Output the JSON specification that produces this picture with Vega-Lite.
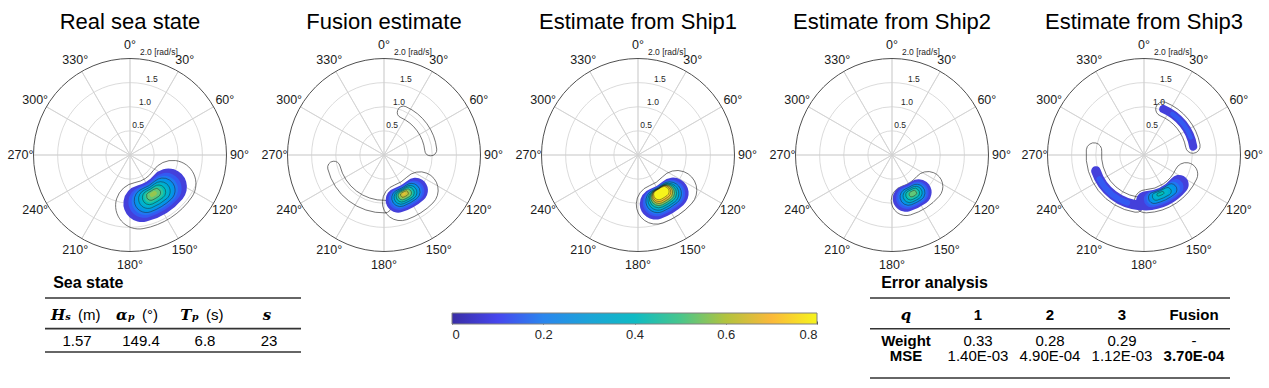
{
"$schema": "https://vega.github.io/schema/vega-lite/v6.json",
"padding": {"left": 3, "top": 11, "right": 0, "bottom": 0},
"config": {"view": {"stroke": null}, "font": "Liberation Sans", "title": {"font": "Liberation Sans", "fontWeight": "normal", "fontSize": 22, "color": "#000000", "anchor": "middle"}},
"datasets": {
"grid": [{"r": 0.5, "a0": 0, "a1": 360}, {"r": 1.0, "a0": 0, "a1": 360}, {"r": 1.5, "a0": 0, "a1": 360}],
"rim": [{"r": 2.0, "a0": 0, "a1": 360}],
"spk": [{"a": 0}, {"a": 30}, {"a": 60}, {"a": 90}, {"a": 120}, {"a": 150}, {"a": 180}, {"a": 210}, {"a": 240}, {"a": 270}, {"a": 300}, {"a": 330}],
"ang": [{"a": 0, "lab": "0°"}, {"a": 30, "lab": "30°"}, {"a": 60, "lab": "60°"}, {"a": 90, "lab": "90°"}, {"a": 120, "lab": "120°"}, {"a": 150, "lab": "150°"}, {"a": 180, "lab": "180°"}, {"a": 210, "lab": "210°"}, {"a": 240, "lab": "240°"}, {"a": 270, "lab": "270°"}, {"a": 300, "lab": "300°"}, {"a": 330, "lab": "330°"}],
"rl": [{"v": 0.5, "lab": "0.5"}, {"v": 1.0, "lab": "1.0"}, {"v": 1.5, "lab": "1.5"}, {"v": 2.0, "lab": "2.0 [rad/s]"}],
"ct": [
{"p": 1, "t1": 97, "t2": 197, "r1": 0.58, "r2": 1.55},
{"p": 2, "t1": 113, "t2": 182, "r1": 0.66, "r2": 1.42},
{"p": 2, "t1": 172, "t2": 263, "r1": 0.94, "r2": 1.2},
{"p": 2, "t1": 17, "t2": 91, "r1": 0.85, "r2": 1.1},
{"p": 3, "t1": 110, "t2": 182, "r1": 0.68, "r2": 1.5},
{"p": 4, "t1": 113, "t2": 181, "r1": 0.68, "r2": 1.3},
{"p": 5, "t1": 14, "t2": 88, "r1": 0.88, "r2": 1.18},
{"p": 5, "t1": 100, "t2": 192, "r1": 0.72, "r2": 1.2},
{"p": 5, "t1": 180, "t2": 284, "r1": 0.88, "r2": 1.2}
],
"lv": [
{"p": 1, "v": 0.05, "t1": 108, "t2": 188, "r1": 0.65, "r2": 1.42},
{"p": 1, "v": 0.10, "t1": 114.4, "t2": 182.0, "r1": 0.693, "r2": 1.345},
{"p": 1, "v": 0.15, "t1": 118.8, "t2": 178.0, "r1": 0.723, "r2": 1.293},
{"p": 1, "v": 0.20, "t1": 122.3, "t2": 174.7, "r1": 0.746, "r2": 1.252},
{"p": 1, "v": 0.25, "t1": 125.3, "t2": 171.9, "r1": 0.767, "r2": 1.215},
{"p": 1, "v": 0.30, "t1": 128.2, "t2": 169.2, "r1": 0.786, "r2": 1.182},
{"p": 1, "v": 0.35, "t1": 130.9, "t2": 166.7, "r1": 0.805, "r2": 1.149},
{"p": 1, "v": 0.40, "t1": 133.6, "t2": 164.2, "r1": 0.823, "r2": 1.117},
{"p": 1, "v": 0.45, "t1": 136.5, "t2": 161.5, "r1": 0.843, "r2": 1.083},
{"p": 1, "v": 0.50, "t1": 139.8, "t2": 158.4, "r1": 0.865, "r2": 1.043},
{"p": 1, "v": 0.55, "t1": 144.4, "t2": 154.0, "r1": 0.896, "r2": 0.99},
{"p": 2, "v": 0.05, "t1": 123, "t2": 178, "r1": 0.72, "r2": 1.24},
{"p": 2, "v": 0.10, "t1": 127.4, "t2": 174.4, "r1": 0.746, "r2": 1.19},
{"p": 2, "v": 0.15, "t1": 130.3, "t2": 171.9, "r1": 0.764, "r2": 1.158},
{"p": 2, "v": 0.20, "t1": 132.6, "t2": 170.0, "r1": 0.777, "r2": 1.131},
{"p": 2, "v": 0.25, "t1": 134.5, "t2": 168.3, "r1": 0.79, "r2": 1.108},
{"p": 2, "v": 0.30, "t1": 136.4, "t2": 166.8, "r1": 0.80, "r2": 1.088},
{"p": 2, "v": 0.35, "t1": 138.1, "t2": 165.3, "r1": 0.811, "r2": 1.069},
{"p": 2, "v": 0.40, "t1": 139.7, "t2": 163.9, "r1": 0.82, "r2": 1.05},
{"p": 2, "v": 0.45, "t1": 141.4, "t2": 162.6, "r1": 0.831, "r2": 1.031},
{"p": 2, "v": 0.50, "t1": 143.1, "t2": 161.1, "r1": 0.841, "r2": 1.011},
{"p": 2, "v": 0.55, "t1": 145.0, "t2": 159.6, "r1": 0.852, "r2": 0.99},
{"p": 2, "v": 0.60, "t1": 147.1, "t2": 157.7, "r1": 0.865, "r2": 0.965},
{"p": 2, "v": 0.65, "t1": 150.6, "t2": 154.8, "r1": 0.886, "r2": 0.926},
{"p": 3, "v": 0.05, "t1": 120, "t2": 178, "r1": 0.75, "r2": 1.40},
{"p": 3, "v": 0.10, "t1": 123.3, "t2": 174.5, "r1": 0.769, "r2": 1.343},
{"p": 3, "v": 0.15, "t1": 125.3, "t2": 172.3, "r1": 0.78, "r2": 1.306},
{"p": 3, "v": 0.20, "t1": 127.0, "t2": 170.5, "r1": 0.79, "r2": 1.278},
{"p": 3, "v": 0.25, "t1": 128.3, "t2": 169.1, "r1": 0.798, "r2": 1.254},
{"p": 3, "v": 0.30, "t1": 129.6, "t2": 167.8, "r1": 0.805, "r2": 1.234},
{"p": 3, "v": 0.35, "t1": 130.6, "t2": 166.8, "r1": 0.808, "r2": 1.21},
{"p": 3, "v": 0.40, "t1": 131.5, "t2": 165.7, "r1": 0.81, "r2": 1.19},
{"p": 3, "v": 0.45, "t1": 132.5, "t2": 164.7, "r1": 0.812, "r2": 1.17},
{"p": 3, "v": 0.50, "t1": 133.3, "t2": 163.7, "r1": 0.814, "r2": 1.15},
{"p": 3, "v": 0.55, "t1": 134.1, "t2": 162.9, "r1": 0.815, "r2": 1.13},
{"p": 3, "v": 0.60, "t1": 134.9, "t2": 161.9, "r1": 0.816, "r2": 1.11},
{"p": 3, "v": 0.65, "t1": 135.7, "t2": 161.1, "r1": 0.818, "r2": 1.09},
{"p": 3, "v": 0.70, "t1": 136.5, "t2": 160.3, "r1": 0.82, "r2": 1.07},
{"p": 3, "v": 0.75, "t1": 137.2, "t2": 159.6, "r1": 0.822, "r2": 1.05},
{"p": 3, "v": 0.80, "t1": 138.0, "t2": 158.8, "r1": 0.825, "r2": 1.035},
{"p": 4, "v": 0.05, "t1": 128, "t2": 179, "r1": 0.68, "r2": 1.22},
{"p": 4, "v": 0.10, "t1": 131.7, "t2": 174.7, "r1": 0.714, "r2": 1.17},
{"p": 4, "v": 0.15, "t1": 134.1, "t2": 171.7, "r1": 0.738, "r2": 1.136},
{"p": 4, "v": 0.20, "t1": 136.1, "t2": 169.3, "r1": 0.757, "r2": 1.107},
{"p": 4, "v": 0.25, "t1": 138.0, "t2": 167.2, "r1": 0.774, "r2": 1.084},
{"p": 4, "v": 0.30, "t1": 139.6, "t2": 165.2, "r1": 0.789, "r2": 1.061},
{"p": 4, "v": 0.35, "t1": 141.2, "t2": 163.4, "r1": 0.805, "r2": 1.039},
{"p": 4, "v": 0.40, "t1": 142.8, "t2": 161.4, "r1": 0.82, "r2": 1.016},
{"p": 4, "v": 0.45, "t1": 144.5, "t2": 159.3, "r1": 0.836, "r2": 0.992},
{"p": 4, "v": 0.50, "t1": 146.6, "t2": 156.8, "r1": 0.856, "r2": 0.964},
{"p": 5, "v": 0.05, "t1": 18, "t2": 85, "r1": 0.95, "r2": 1.12},
{"p": 5, "v": 0.05, "t1": 178, "t2": 257, "r1": 0.95, "r2": 1.15},
{"p": 5, "v": 0.05, "t1": 118, "t2": 190, "r1": 0.75, "r2": 1.15},
{"p": 5, "v": 0.10, "t1": 32, "t2": 72, "r1": 0.99, "r2": 1.08},
{"p": 5, "v": 0.10, "t1": 196, "t2": 245, "r1": 0.99, "r2": 1.11},
{"p": 5, "v": 0.10, "t1": 125.2, "t2": 180.2, "r1": 0.77, "r2": 1.098},
{"p": 5, "v": 0.15, "t1": 130.2, "t2": 176.8, "r1": 0.784, "r2": 1.062},
{"p": 5, "v": 0.20, "t1": 134.4, "t2": 174.0, "r1": 0.795, "r2": 1.031},
{"p": 5, "v": 0.25, "t1": 138.3, "t2": 171.3, "r1": 0.805, "r2": 1.003},
{"p": 5, "v": 0.30, "t1": 142.1, "t2": 168.7, "r1": 0.816, "r2": 0.976},
{"p": 5, "v": 0.35, "t1": 146.3, "t2": 165.9, "r1": 0.827, "r2": 0.945},
{"p": 5, "v": 0.40, "t1": 151.9, "t2": 162.1, "r1": 0.844, "r2": 0.904}
],
"t1": [
{"c": "H", "y": 0.705, "k": "sym", "t": "Hₛ"},
{"c": "A", "y": 0.705, "k": "sym", "t": "αₚ"},
{"c": "T", "y": 0.705, "k": "sym", "t": "Tₚ"},
{"c": "S", "y": 0.705, "k": "s", "t": "s"},
{"c": "H", "y": 0.705, "k": "unit", "t": "(m)"},
{"c": "A", "y": 0.705, "k": "unit", "t": "(°)"},
{"c": "T", "y": 0.705, "k": "unit", "t": "(s)"},
{"c": "H", "y": 1.764, "k": "val", "t": "1.57"},
{"c": "A", "y": 1.764, "k": "val", "t": "149.4"},
{"c": "T", "y": 1.764, "k": "val", "t": "6.8"},
{"c": "S", "y": 1.764, "k": "val", "t": "23"}
],
"t2": [
{"c": "q", "y": 0.695, "k": "q", "t": "q"},
{"c": "1", "y": 0.695, "k": "lab", "t": "1"},
{"c": "2", "y": 0.695, "k": "lab", "t": "2"},
{"c": "3", "y": 0.695, "k": "lab", "t": "3"},
{"c": "F", "y": 0.695, "k": "lab", "t": "Fusion"},
{"c": "q", "y": 1.75, "k": "lab", "t": "Weight"},
{"c": "1", "y": 1.75, "k": "val", "t": "0.33"},
{"c": "2", "y": 1.75, "k": "val", "t": "0.28"},
{"c": "3", "y": 1.75, "k": "val", "t": "0.29"},
{"c": "F", "y": 1.75, "k": "val", "t": "-"},
{"c": "q", "y": 2.37, "k": "lab", "t": "MSE"},
{"c": "1", "y": 2.37, "k": "val", "t": "1.40E-03"},
{"c": "2", "y": 2.37, "k": "val", "t": "4.90E-04"},
{"c": "3", "y": 2.37, "k": "val", "t": "1.12E-03"},
{"c": "F", "y": 2.37, "k": "lab", "t": "3.70E-04"}
]
},
"vconcat": [
{"hconcat": [
{"width": 254, "height": 230, "title": {"text": "Real sea state", "offset": 5},
 "layer": [
 {"data": {"name": "grid"}, "mark": {"type": "arc", "filled": false, "stroke": "#d2d2d2", "strokeWidth": 0.8}, "encoding": {"theta": {"field": "a0", "type": "quantitative", "scale": {"domain": [0, 360]}, "stack": null}, "theta2": {"field": "a1"}, "radius": {"field": "r", "type": "quantitative", "scale": {"type": "linear", "domain": [0, 2], "range": [0, 96.5], "zero": true, "nice": false}}}},
 {"data": {"name": "spk"}, "mark": {"type": "arc", "filled": false, "stroke": "#d2d2d2", "strokeWidth": 0.8}, "encoding": {"theta": {"field": "a", "type": "quantitative", "stack": null}, "theta2": {"field": "a"}, "radius": {"datum": 2, "type": "quantitative"}}},
 {"data": {"name": "rim"}, "mark": {"type": "arc", "filled": false, "stroke": "#505050", "strokeWidth": 1}, "encoding": {"theta": {"field": "a0", "type": "quantitative", "stack": null}, "theta2": {"field": "a1"}, "radius": {"field": "r", "type": "quantitative"}}},
 {"data": {"name": "ct"}, "transform": [{"filter": "datum.p == 1"}], "mark": {"type": "arc", "filled": false, "stroke": "#3a3a3a", "strokeWidth": 0.7, "cornerRadius": 60}, "encoding": {"theta": {"field": "t1", "type": "quantitative", "stack": null}, "theta2": {"field": "t2"}, "radius": {"field": "r2", "type": "quantitative"}, "radius2": {"field": "r1"}}},
 {"data": {"name": "lv"}, "transform": [{"filter": "datum.p == 1"}], "mark": {"type": "arc", "strokeWidth": 0, "cornerRadius": 60}, "encoding": {"theta": {"field": "t1", "type": "quantitative", "stack": null}, "theta2": {"field": "t2"}, "radius": {"field": "r2", "type": "quantitative"}, "radius2": {"field": "r1"}, "fill": {"field": "v", "type": "quantitative", "legend": null, "scale": {"domain": [-0.025, 0.075, 0.175, 0.275, 0.375, 0.475, 0.575, 0.675, 0.775], "range": ["#3a2ea6", "#4646ee", "#2a86ee", "#1ca4d8", "#0fbbc4", "#48c68c", "#b2c33e", "#fbb93a", "#f6f41c"], "clamp": true}}}},
 {"data": {"name": "lv"}, "transform": [{"filter": "datum.p == 1 && datum.v > 0.19 && abs(datum.v * 10 - round(datum.v * 10)) < 0.01"}], "mark": {"type": "arc", "filled": false, "stroke": "#1e1e1e", "strokeWidth": 0.55, "strokeOpacity": 0.85, "cornerRadius": 60}, "encoding": {"theta": {"field": "t1", "type": "quantitative", "stack": null}, "theta2": {"field": "t2"}, "radius": {"field": "r2", "type": "quantitative"}, "radius2": {"field": "r1"}}},
 {"data": {"name": "ang"}, "mark": {"type": "text", "fontSize": 12.5, "color": "#1a1a1a"}, "encoding": {"theta": {"field": "a", "type": "quantitative", "stack": null}, "radius": {"datum": 2.27, "type": "quantitative"}, "text": {"field": "lab", "type": "nominal"}}},
 {"data": {"name": "rl"}, "transform": [{"filter": "datum.v < 2"}], "mark": {"type": "text", "fontSize": 8.5, "dx": 1.3, "dy": -6.5, "color": "#262626"}, "encoding": {"theta": {"datum": 16.5, "type": "quantitative"}, "radius": {"field": "v", "type": "quantitative"}, "text": {"field": "lab", "type": "nominal"}}},
 {"data": {"name": "rl"}, "transform": [{"filter": "datum.v == 2"}], "mark": {"type": "text", "fontSize": 8.5, "dx": 1.5, "dy": -10.5, "color": "#262626"}, "encoding": {"theta": {"datum": 16.5, "type": "quantitative"}, "radius": {"field": "v", "type": "quantitative"}, "text": {"field": "lab", "type": "nominal"}}}
 ]},
{"width": 254, "height": 230, "title": {"text": "Fusion estimate", "offset": 5},
 "layer": [
 {"data": {"name": "grid"}, "mark": {"type": "arc", "filled": false, "stroke": "#d2d2d2", "strokeWidth": 0.8}, "encoding": {"theta": {"field": "a0", "type": "quantitative", "scale": {"domain": [0, 360]}, "stack": null}, "theta2": {"field": "a1"}, "radius": {"field": "r", "type": "quantitative", "scale": {"type": "linear", "domain": [0, 2], "range": [0, 96.5], "zero": true, "nice": false}}}},
 {"data": {"name": "spk"}, "mark": {"type": "arc", "filled": false, "stroke": "#d2d2d2", "strokeWidth": 0.8}, "encoding": {"theta": {"field": "a", "type": "quantitative", "stack": null}, "theta2": {"field": "a"}, "radius": {"datum": 2, "type": "quantitative"}}},
 {"data": {"name": "rim"}, "mark": {"type": "arc", "filled": false, "stroke": "#505050", "strokeWidth": 1}, "encoding": {"theta": {"field": "a0", "type": "quantitative", "stack": null}, "theta2": {"field": "a1"}, "radius": {"field": "r", "type": "quantitative"}}},
 {"data": {"name": "ct"}, "transform": [{"filter": "datum.p == 2"}], "mark": {"type": "arc", "filled": false, "stroke": "#3a3a3a", "strokeWidth": 0.7, "cornerRadius": 60}, "encoding": {"theta": {"field": "t1", "type": "quantitative", "stack": null}, "theta2": {"field": "t2"}, "radius": {"field": "r2", "type": "quantitative"}, "radius2": {"field": "r1"}}},
 {"data": {"name": "lv"}, "transform": [{"filter": "datum.p == 2"}], "mark": {"type": "arc", "strokeWidth": 0, "cornerRadius": 60}, "encoding": {"theta": {"field": "t1", "type": "quantitative", "stack": null}, "theta2": {"field": "t2"}, "radius": {"field": "r2", "type": "quantitative"}, "radius2": {"field": "r1"}, "fill": {"field": "v", "type": "quantitative", "legend": null, "scale": {"domain": [-0.025, 0.075, 0.175, 0.275, 0.375, 0.475, 0.575, 0.675, 0.775], "range": ["#3a2ea6", "#4646ee", "#2a86ee", "#1ca4d8", "#0fbbc4", "#48c68c", "#b2c33e", "#fbb93a", "#f6f41c"], "clamp": true}}}},
 {"data": {"name": "lv"}, "transform": [{"filter": "datum.p == 2 && datum.v > 0.19 && abs(datum.v * 10 - round(datum.v * 10)) < 0.01"}], "mark": {"type": "arc", "filled": false, "stroke": "#1e1e1e", "strokeWidth": 0.55, "strokeOpacity": 0.85, "cornerRadius": 60}, "encoding": {"theta": {"field": "t1", "type": "quantitative", "stack": null}, "theta2": {"field": "t2"}, "radius": {"field": "r2", "type": "quantitative"}, "radius2": {"field": "r1"}}},
 {"data": {"name": "ang"}, "mark": {"type": "text", "fontSize": 12.5, "color": "#1a1a1a"}, "encoding": {"theta": {"field": "a", "type": "quantitative", "stack": null}, "radius": {"datum": 2.27, "type": "quantitative"}, "text": {"field": "lab", "type": "nominal"}}},
 {"data": {"name": "rl"}, "transform": [{"filter": "datum.v < 2"}], "mark": {"type": "text", "fontSize": 8.5, "dx": 1.3, "dy": -6.5, "color": "#262626"}, "encoding": {"theta": {"datum": 16.5, "type": "quantitative"}, "radius": {"field": "v", "type": "quantitative"}, "text": {"field": "lab", "type": "nominal"}}},
 {"data": {"name": "rl"}, "transform": [{"filter": "datum.v == 2"}], "mark": {"type": "text", "fontSize": 8.5, "dx": 1.5, "dy": -10.5, "color": "#262626"}, "encoding": {"theta": {"datum": 16.5, "type": "quantitative"}, "radius": {"field": "v", "type": "quantitative"}, "text": {"field": "lab", "type": "nominal"}}}
 ]},
{"width": 254, "height": 230, "title": {"text": "Estimate from Ship1", "offset": 5},
 "layer": [
 {"data": {"name": "grid"}, "mark": {"type": "arc", "filled": false, "stroke": "#d2d2d2", "strokeWidth": 0.8}, "encoding": {"theta": {"field": "a0", "type": "quantitative", "scale": {"domain": [0, 360]}, "stack": null}, "theta2": {"field": "a1"}, "radius": {"field": "r", "type": "quantitative", "scale": {"type": "linear", "domain": [0, 2], "range": [0, 96.5], "zero": true, "nice": false}}}},
 {"data": {"name": "spk"}, "mark": {"type": "arc", "filled": false, "stroke": "#d2d2d2", "strokeWidth": 0.8}, "encoding": {"theta": {"field": "a", "type": "quantitative", "stack": null}, "theta2": {"field": "a"}, "radius": {"datum": 2, "type": "quantitative"}}},
 {"data": {"name": "rim"}, "mark": {"type": "arc", "filled": false, "stroke": "#505050", "strokeWidth": 1}, "encoding": {"theta": {"field": "a0", "type": "quantitative", "stack": null}, "theta2": {"field": "a1"}, "radius": {"field": "r", "type": "quantitative"}}},
 {"data": {"name": "ct"}, "transform": [{"filter": "datum.p == 3"}], "mark": {"type": "arc", "filled": false, "stroke": "#3a3a3a", "strokeWidth": 0.7, "cornerRadius": 60}, "encoding": {"theta": {"field": "t1", "type": "quantitative", "stack": null}, "theta2": {"field": "t2"}, "radius": {"field": "r2", "type": "quantitative"}, "radius2": {"field": "r1"}}},
 {"data": {"name": "lv"}, "transform": [{"filter": "datum.p == 3"}], "mark": {"type": "arc", "strokeWidth": 0, "cornerRadius": 60}, "encoding": {"theta": {"field": "t1", "type": "quantitative", "stack": null}, "theta2": {"field": "t2"}, "radius": {"field": "r2", "type": "quantitative"}, "radius2": {"field": "r1"}, "fill": {"field": "v", "type": "quantitative", "legend": null, "scale": {"domain": [-0.025, 0.075, 0.175, 0.275, 0.375, 0.475, 0.575, 0.675, 0.775], "range": ["#3a2ea6", "#4646ee", "#2a86ee", "#1ca4d8", "#0fbbc4", "#48c68c", "#b2c33e", "#fbb93a", "#f6f41c"], "clamp": true}}}},
 {"data": {"name": "lv"}, "transform": [{"filter": "datum.p == 3 && datum.v > 0.19 && abs(datum.v * 10 - round(datum.v * 10)) < 0.01"}], "mark": {"type": "arc", "filled": false, "stroke": "#1e1e1e", "strokeWidth": 0.55, "strokeOpacity": 0.85, "cornerRadius": 60}, "encoding": {"theta": {"field": "t1", "type": "quantitative", "stack": null}, "theta2": {"field": "t2"}, "radius": {"field": "r2", "type": "quantitative"}, "radius2": {"field": "r1"}}},
 {"data": {"name": "ang"}, "mark": {"type": "text", "fontSize": 12.5, "color": "#1a1a1a"}, "encoding": {"theta": {"field": "a", "type": "quantitative", "stack": null}, "radius": {"datum": 2.27, "type": "quantitative"}, "text": {"field": "lab", "type": "nominal"}}},
 {"data": {"name": "rl"}, "transform": [{"filter": "datum.v < 2"}], "mark": {"type": "text", "fontSize": 8.5, "dx": 1.3, "dy": -6.5, "color": "#262626"}, "encoding": {"theta": {"datum": 16.5, "type": "quantitative"}, "radius": {"field": "v", "type": "quantitative"}, "text": {"field": "lab", "type": "nominal"}}},
 {"data": {"name": "rl"}, "transform": [{"filter": "datum.v == 2"}], "mark": {"type": "text", "fontSize": 8.5, "dx": 1.5, "dy": -10.5, "color": "#262626"}, "encoding": {"theta": {"datum": 16.5, "type": "quantitative"}, "radius": {"field": "v", "type": "quantitative"}, "text": {"field": "lab", "type": "nominal"}}}
 ]},
{"width": 254, "height": 230, "title": {"text": "Estimate from Ship2", "offset": 5},
 "layer": [
 {"data": {"name": "grid"}, "mark": {"type": "arc", "filled": false, "stroke": "#d2d2d2", "strokeWidth": 0.8}, "encoding": {"theta": {"field": "a0", "type": "quantitative", "scale": {"domain": [0, 360]}, "stack": null}, "theta2": {"field": "a1"}, "radius": {"field": "r", "type": "quantitative", "scale": {"type": "linear", "domain": [0, 2], "range": [0, 96.5], "zero": true, "nice": false}}}},
 {"data": {"name": "spk"}, "mark": {"type": "arc", "filled": false, "stroke": "#d2d2d2", "strokeWidth": 0.8}, "encoding": {"theta": {"field": "a", "type": "quantitative", "stack": null}, "theta2": {"field": "a"}, "radius": {"datum": 2, "type": "quantitative"}}},
 {"data": {"name": "rim"}, "mark": {"type": "arc", "filled": false, "stroke": "#505050", "strokeWidth": 1}, "encoding": {"theta": {"field": "a0", "type": "quantitative", "stack": null}, "theta2": {"field": "a1"}, "radius": {"field": "r", "type": "quantitative"}}},
 {"data": {"name": "ct"}, "transform": [{"filter": "datum.p == 4"}], "mark": {"type": "arc", "filled": false, "stroke": "#3a3a3a", "strokeWidth": 0.7, "cornerRadius": 60}, "encoding": {"theta": {"field": "t1", "type": "quantitative", "stack": null}, "theta2": {"field": "t2"}, "radius": {"field": "r2", "type": "quantitative"}, "radius2": {"field": "r1"}}},
 {"data": {"name": "lv"}, "transform": [{"filter": "datum.p == 4"}], "mark": {"type": "arc", "strokeWidth": 0, "cornerRadius": 60}, "encoding": {"theta": {"field": "t1", "type": "quantitative", "stack": null}, "theta2": {"field": "t2"}, "radius": {"field": "r2", "type": "quantitative"}, "radius2": {"field": "r1"}, "fill": {"field": "v", "type": "quantitative", "legend": null, "scale": {"domain": [-0.025, 0.075, 0.175, 0.275, 0.375, 0.475, 0.575, 0.675, 0.775], "range": ["#3a2ea6", "#4646ee", "#2a86ee", "#1ca4d8", "#0fbbc4", "#48c68c", "#b2c33e", "#fbb93a", "#f6f41c"], "clamp": true}}}},
 {"data": {"name": "lv"}, "transform": [{"filter": "datum.p == 4 && datum.v > 0.19 && abs(datum.v * 10 - round(datum.v * 10)) < 0.01"}], "mark": {"type": "arc", "filled": false, "stroke": "#1e1e1e", "strokeWidth": 0.55, "strokeOpacity": 0.85, "cornerRadius": 60}, "encoding": {"theta": {"field": "t1", "type": "quantitative", "stack": null}, "theta2": {"field": "t2"}, "radius": {"field": "r2", "type": "quantitative"}, "radius2": {"field": "r1"}}},
 {"data": {"name": "ang"}, "mark": {"type": "text", "fontSize": 12.5, "color": "#1a1a1a"}, "encoding": {"theta": {"field": "a", "type": "quantitative", "stack": null}, "radius": {"datum": 2.27, "type": "quantitative"}, "text": {"field": "lab", "type": "nominal"}}},
 {"data": {"name": "rl"}, "transform": [{"filter": "datum.v < 2"}], "mark": {"type": "text", "fontSize": 8.5, "dx": 1.3, "dy": -6.5, "color": "#262626"}, "encoding": {"theta": {"datum": 16.5, "type": "quantitative"}, "radius": {"field": "v", "type": "quantitative"}, "text": {"field": "lab", "type": "nominal"}}},
 {"data": {"name": "rl"}, "transform": [{"filter": "datum.v == 2"}], "mark": {"type": "text", "fontSize": 8.5, "dx": 1.5, "dy": -10.5, "color": "#262626"}, "encoding": {"theta": {"datum": 16.5, "type": "quantitative"}, "radius": {"field": "v", "type": "quantitative"}, "text": {"field": "lab", "type": "nominal"}}}
 ]},
{"width": 250, "height": 230, "title": {"text": "Estimate from Ship3", "offset": 5},
 "layer": [
 {"data": {"name": "grid"}, "mark": {"type": "arc", "filled": false, "stroke": "#d2d2d2", "strokeWidth": 0.8}, "encoding": {"theta": {"field": "a0", "type": "quantitative", "scale": {"domain": [0, 360]}, "stack": null}, "theta2": {"field": "a1"}, "radius": {"field": "r", "type": "quantitative", "scale": {"type": "linear", "domain": [0, 2], "range": [0, 96.5], "zero": true, "nice": false}}}},
 {"data": {"name": "spk"}, "mark": {"type": "arc", "filled": false, "stroke": "#d2d2d2", "strokeWidth": 0.8}, "encoding": {"theta": {"field": "a", "type": "quantitative", "stack": null}, "theta2": {"field": "a"}, "radius": {"datum": 2, "type": "quantitative"}}},
 {"data": {"name": "rim"}, "mark": {"type": "arc", "filled": false, "stroke": "#505050", "strokeWidth": 1}, "encoding": {"theta": {"field": "a0", "type": "quantitative", "stack": null}, "theta2": {"field": "a1"}, "radius": {"field": "r", "type": "quantitative"}}},
 {"data": {"name": "ct"}, "transform": [{"filter": "datum.p == 5"}], "mark": {"type": "arc", "filled": false, "stroke": "#3a3a3a", "strokeWidth": 0.7, "cornerRadius": 60}, "encoding": {"theta": {"field": "t1", "type": "quantitative", "stack": null}, "theta2": {"field": "t2"}, "radius": {"field": "r2", "type": "quantitative"}, "radius2": {"field": "r1"}}},
 {"data": {"name": "lv"}, "transform": [{"filter": "datum.p == 5"}], "mark": {"type": "arc", "strokeWidth": 0, "cornerRadius": 60}, "encoding": {"theta": {"field": "t1", "type": "quantitative", "stack": null}, "theta2": {"field": "t2"}, "radius": {"field": "r2", "type": "quantitative"}, "radius2": {"field": "r1"}, "fill": {"field": "v", "type": "quantitative", "legend": null, "scale": {"domain": [-0.025, 0.075, 0.175, 0.275, 0.375, 0.475, 0.575, 0.675, 0.775], "range": ["#3a2ea6", "#4646ee", "#2a86ee", "#1ca4d8", "#0fbbc4", "#48c68c", "#b2c33e", "#fbb93a", "#f6f41c"], "clamp": true}}}},
 {"data": {"name": "lv"}, "transform": [{"filter": "datum.p == 5 && datum.v > 0.19 && abs(datum.v * 10 - round(datum.v * 10)) < 0.01"}], "mark": {"type": "arc", "filled": false, "stroke": "#1e1e1e", "strokeWidth": 0.55, "strokeOpacity": 0.85, "cornerRadius": 60}, "encoding": {"theta": {"field": "t1", "type": "quantitative", "stack": null}, "theta2": {"field": "t2"}, "radius": {"field": "r2", "type": "quantitative"}, "radius2": {"field": "r1"}}},
 {"data": {"name": "ang"}, "mark": {"type": "text", "fontSize": 12.5, "color": "#1a1a1a"}, "encoding": {"theta": {"field": "a", "type": "quantitative", "stack": null}, "radius": {"datum": 2.27, "type": "quantitative"}, "text": {"field": "lab", "type": "nominal"}}},
 {"data": {"name": "rl"}, "transform": [{"filter": "datum.v < 2"}], "mark": {"type": "text", "fontSize": 8.5, "dx": 1.3, "dy": -6.5, "color": "#262626"}, "encoding": {"theta": {"datum": 16.5, "type": "quantitative"}, "radius": {"field": "v", "type": "quantitative"}, "text": {"field": "lab", "type": "nominal"}}},
 {"data": {"name": "rl"}, "transform": [{"filter": "datum.v == 2"}], "mark": {"type": "text", "fontSize": 8.5, "dx": 1.5, "dy": -10.5, "color": "#262626"}, "encoding": {"theta": {"datum": 16.5, "type": "quantitative"}, "radius": {"field": "v", "type": "quantitative"}, "text": {"field": "lab", "type": "nominal"}}}
 ]}
], "spacing": 0},
{"hconcat": [
 {"hconcat": [
  {"width": 41, "height": 10, "data": {"values": []}, "mark": "point"},
  {"width": 256, "height": 54, "title": {"text": "Sea state", "anchor": "start", "fontSize": 16, "fontWeight": "bold", "dx": 9, "offset": 6},
   "data": {"name": "t1"},
   "layer": [
    {"data": {"values": [{"y": 0}, {"y": 1.247}, {"y": 2.2}]}, "mark": {"type": "rule", "color": "#333333", "strokeWidth": 1.6}, "encoding": {"y": {"field": "y", "type": "quantitative", "scale": {"domain": [0, 2.2], "reverse": true, "nice": false, "zero": false}, "axis": null}}},
    {"transform": [{"filter": "datum.k == 'sym'"}], "mark": {"type": "text", "font": "DejaVu Serif", "fontStyle": "italic", "fontWeight": "bold", "fontSize": 15, "align": "right", "dx": -6, "color": "#000000"}, "encoding": {"x": {"field": "c", "type": "nominal", "scale": {"domain": ["H", "A", "T", "S"]}, "axis": null}, "y": {"field": "y", "type": "quantitative"}, "text": {"field": "t"}}},
    {"transform": [{"filter": "datum.k == 's'"}], "mark": {"type": "text", "font": "DejaVu Serif", "fontStyle": "italic", "fontWeight": "bold", "fontSize": 15, "dx": -2, "color": "#000000"}, "encoding": {"x": {"field": "c", "type": "nominal", "axis": null}, "y": {"field": "y", "type": "quantitative"}, "text": {"field": "t"}}},
    {"transform": [{"filter": "datum.k == 'unit'"}], "mark": {"type": "text", "fontSize": 15, "align": "left", "dx": 1, "color": "#000000"}, "encoding": {"x": {"field": "c", "type": "nominal", "axis": null}, "y": {"field": "y", "type": "quantitative"}, "text": {"field": "t"}}},
    {"transform": [{"filter": "datum.k == 'val'"}], "mark": {"type": "text", "fontSize": 15, "color": "#000000"}, "encoding": {"x": {"field": "c", "type": "nominal", "axis": null}, "y": {"field": "y", "type": "quantitative"}, "text": {"field": "t"}}}
   ]}
 ], "spacing": 0},
 {"hconcat": [
  {"vconcat": [
   {"width": 365, "height": 14, "data": {"values": []}, "mark": "point"},
   {"width": 365, "height": 11, "data": {"values": [{"lo": 0, "hi": 0.8}]},
    "mark": {"type": "rect", "stroke": "#808080", "strokeWidth": 1, "fill": {"gradient": "linear", "x1": 0, "y1": 0, "x2": 1, "y2": 0, "stops": [{"offset": 0, "color": "#3a2ea6"}, {"offset": 0.125, "color": "#4646ee"}, {"offset": 0.25, "color": "#2a86ee"}, {"offset": 0.375, "color": "#1ca4d8"}, {"offset": 0.5, "color": "#0fbbc4"}, {"offset": 0.625, "color": "#48c68c"}, {"offset": 0.75, "color": "#b2c33e"}, {"offset": 0.875, "color": "#fbb93a"}, {"offset": 1, "color": "#f6f41c"}]}},
    "encoding": {"x": {"field": "lo", "type": "quantitative", "scale": {"domain": [0, 0.8], "nice": false}, "axis": {"values": [0, 0.2, 0.4, 0.6, 0.8], "format": "~g", "title": null, "grid": false, "domain": false, "tickSize": -3, "tickColor": "#333333", "labelPadding": 7, "labelFontSize": 13, "labelColor": "#262626", "labelFont": "Liberation Sans"}}, "x2": {"field": "hi"}}}
  ], "spacing": 0},
  {"width": 360, "height": 80, "title": {"text": "Error analysis", "anchor": "start", "fontSize": 16, "fontWeight": "bold", "dx": 12, "offset": 6},
   "data": {"name": "t2"},
   "layer": [
    {"data": {"values": [{"y": 0}, {"y": 1.255}, {"y": 3.27}]}, "mark": {"type": "rule", "color": "#333333", "strokeWidth": 1.6}, "encoding": {"y": {"field": "y", "type": "quantitative", "scale": {"domain": [0, 3.27], "reverse": true, "nice": false, "zero": false}, "axis": null}}},
    {"transform": [{"filter": "datum.k == 'q'"}], "mark": {"type": "text", "font": "DejaVu Serif", "fontStyle": "italic", "fontWeight": "bold", "fontSize": 15, "color": "#000000"}, "encoding": {"x": {"field": "c", "type": "nominal", "scale": {"domain": ["q", "1", "2", "3", "F"]}, "axis": null}, "y": {"field": "y", "type": "quantitative"}, "text": {"field": "t"}}},
    {"transform": [{"filter": "datum.k == 'lab'"}], "mark": {"type": "text", "fontWeight": "bold", "fontSize": 15, "color": "#000000"}, "encoding": {"x": {"field": "c", "type": "nominal", "axis": null}, "y": {"field": "y", "type": "quantitative"}, "text": {"field": "t"}}},
    {"transform": [{"filter": "datum.k == 'val'"}], "mark": {"type": "text", "fontSize": 15, "color": "#000000"}, "encoding": {"x": {"field": "c", "type": "nominal", "axis": null}, "y": {"field": "y", "type": "quantitative"}, "text": {"field": "t"}}}
   ]}
 ], "spacing": 51}
], "spacing": 149}
],
"spacing": 3
}
